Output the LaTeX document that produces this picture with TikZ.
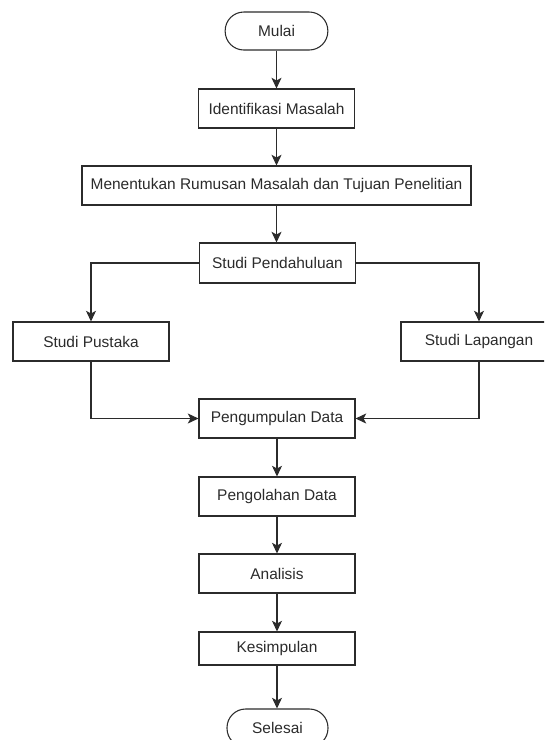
\documentclass[tikz,border=0pt]{standalone}
\usepackage{fontspec}
\setmainfont{Liberation Sans}
\usetikzlibrary{arrows.meta}
\definecolor{garis}{HTML}{2B2B2B}
\begin{document}
\begin{tikzpicture}[x=0.75pt,y=-0.75pt,line width=0.8pt,draw=garis,
  box/.style={draw=garis,text=garis,inner sep=0pt,minimum width=117pt,minimum height=29.25pt,font=\fontsize{11.6}{13}\selectfont},
  terminal/.style={box,rounded corners=14pt,minimum width=77pt,minimum height=28.5pt},
  arrow/.style={draw=garis,-{Stealth[length=8pt,width=7.5pt,inset=2pt]}}]
\useasboundingbox (0,0) rectangle (544,740);
\clip (0,0) rectangle (544,740);
\node[terminal] (mulai) at (276.5,31) {Mulai};
\node[box] (identifikasi) at (276.5,108.5) {Identifikasi Masalah};
\node[box,minimum width=291.75pt] (rumusan) at (276.5,185.5) {Menentukan Rumusan Masalah dan Tujuan Penelitian};
\node[box,minimum height=30pt] (pendahuluan) at (277.5,263) {Studi Pendahuluan};
\node[box] (pustaka) at (91,341.5) {Studi Pustaka};
\node[box] (lapangan) at (479,341.5) {Studi Lapangan};
\node[box] (pengumpulan) at (277,418.5) {Pengumpulan Data};
\node[box] (pengolahan) at (277,496.5) {Pengolahan Data};
\node[box] (analisis) at (277,573.5) {Analisis};
\node[box,minimum height=24.75pt] (kesimpulan) at (277,648.5) {Kesimpulan};
\node[terminal,minimum width=75.75pt] (selesai) at (277.5,728) {Selesai};
% alur
\draw[arrow] (mulai) -- (identifikasi);
\draw[arrow] (identifikasi) -- (rumusan);
\draw[arrow] (rumusan) -- (rumusan |- pendahuluan.north);
\draw[arrow] (pendahuluan.west) -| (pustaka.north);
\draw[arrow] (pendahuluan.east) -| (lapangan.north);
\draw[arrow] (pustaka.south) |- (pengumpulan.west);
\draw[arrow] (lapangan.south) |- (pengumpulan.east);
\draw[arrow] (pengumpulan) -- (pengolahan);
\draw[arrow] (pengolahan) -- (analisis);
\draw[arrow] (analisis) -- (kesimpulan);
\draw[arrow] (kesimpulan) -- (kesimpulan |- selesai.north);
\end{tikzpicture}
\end{document}
